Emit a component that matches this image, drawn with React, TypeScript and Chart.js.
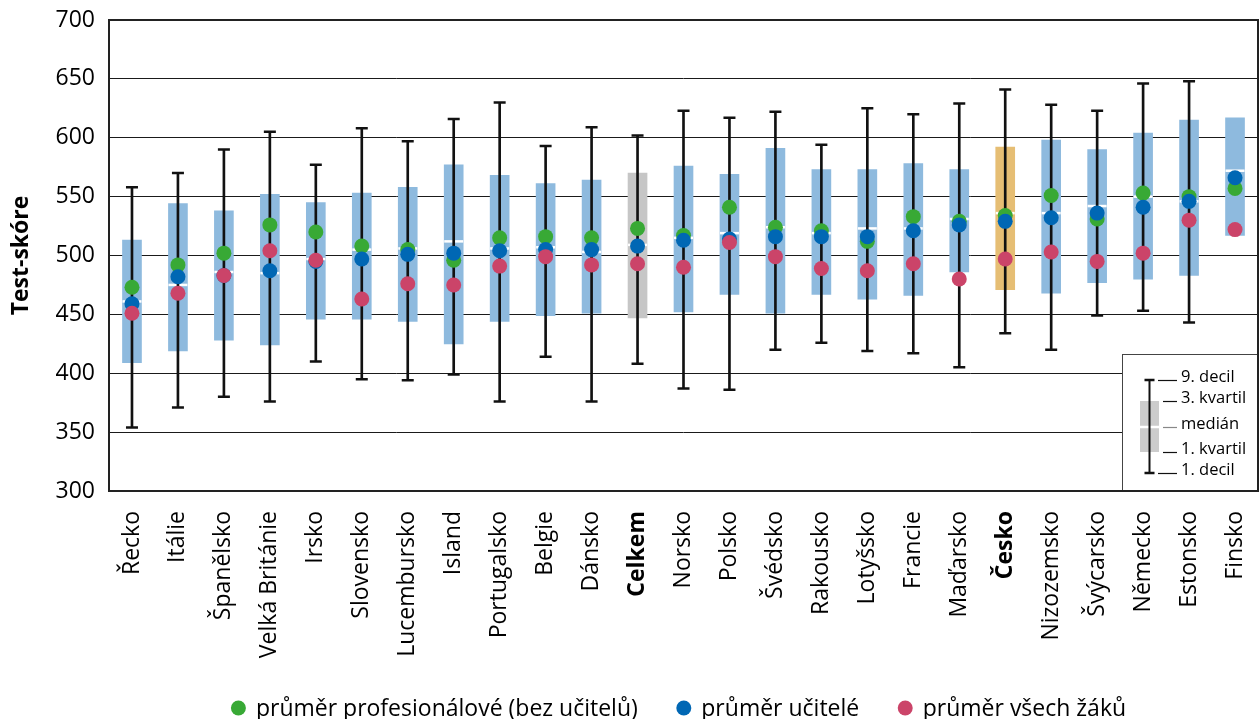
import React, { useEffect, useRef } from 'react';
import { Chart, registerables } from 'chart.js';

Chart.register(...registerables);

// ---------- data ----------
const categories = [
  'Řecko', 'Itálie', 'Španělsko', 'Velká Británie', 'Irsko', 'Slovensko', 'Lucembursko', 'Island',
  'Portugalsko', 'Belgie', 'Dánsko', 'Celkem', 'Norsko', 'Polsko', 'Švédsko', 'Rakousko', 'Lotyšsko',
  'Francie', 'Maďarsko', 'Česko', 'Nizozemsko', 'Švýcarsko', 'Německo', 'Estonsko', 'Finsko',
];
const decile1 = [354, 371, 380, 376, 410, 395, 394, 399, 376, 414, 376, 408, 387, 386, 420, 426, 419, 417, 405, 434, 420, 449, 453, 443, null];
const decile9 = [558, 570, 590, 605, 577, 608, 597, 616, 630, 593, 609, 602, 623, 617, 622, 594, 625, 620, 629, 641, 628, 623, 646, 648, null];
const quartile1 = [409, 419, 428, 424, 446, 446, 444, 425, 444, 449, 451, 447, 452, 467, 451, 467, 463, 466, 486, 471, 468, 477, 480, 483, 517];
const quartile3 = [513, 544, 538, 552, 545, 553, 558, 577, 568, 561, 564, 570, 576, 569, 591, 573, 573, 578, 573, 592, 598, 590, 604, 615, 617];
const medians = [461, 475, 486, 485, 497, 505, 506, 512, 506, 507, 503, 509, 515, 519, 524, 519, 523, 523, 531, 536, 536, 542, 550, 546, 572];
const profMeans = [473, 492, 502, 526, 520, 508, 505, 496, 515, 516, 515, 523, 517, 541, 524, 521, 512, 533, 529, 534, 551, 531, 553, 550, 557];
const teacherMeans = [459, 482, 483, 487, 495, 497, 501, 502, 504, 505, 505, 508, 513, 514, 516, 516, 516, 521, 526, 529, 532, 536, 541, 546, 566];
const studentMeans = [451, 468, 483, 504, 496, 463, 476, 475, 491, 499, 492, 493, 490, 511, 499, 489, 487, 493, 480, 497, 503, 495, 502, 530, 522];
const yTickValues = [300, 350, 400, 450, 500, 550, 600, 650, 700];
const highlighted = ['Celkem', 'Česko'];
const seriesLabels = ['průměr profesionálové (bez učitelů)', 'průměr učitelé', 'průměr všech žáků'];
const keyLabels = ['9. decil', '3. kvartil', 'medián', '1. kvartil', '1. decil'];
const yTitle = 'Test-skóre';

// ---------- styles ----------
const FONT = "'Open Sans', 'Noto Sans', 'DejaVu Sans', sans-serif";
const FS = 23;
const GREEN = '#38A935';
const BLUE = '#0067B4';
const RED = '#CB4469';
const SERIES_COLORS = [GREEN, BLUE, RED];
const BOX_BLUE = '#8EBADE';
const BOX_SPECIAL: Record<string, string> = { Celkem: '#C6C6C6', 'Česko': '#E6BE74' };

const plotBorderPlugin = {
  id: 'plotBorder',
  afterDraw(chart: any) {
    const { ctx, chartArea: a } = chart;
    ctx.save();
    ctx.strokeStyle = '#222';
    ctx.lineWidth = 2;
    ctx.strokeRect(a.left, a.top, a.right - a.left, a.bottom - a.top);
    ctx.restore();
  },
};

const keyBoxPlugin = {
  id: 'keyBox',
  afterDatasetsDraw(chart: any) {
    const { ctx, chartArea: a } = chart;
    const L = a.right - 136;
    const T = a.bottom - 137;
    ctx.save();
    ctx.fillStyle = '#fff';
    ctx.fillRect(L, T, a.right - L, a.bottom - T);
    ctx.strokeStyle = '#444';
    ctx.lineWidth = 1;
    ctx.strokeRect(L + 0.5, T + 0.5, a.right - L, a.bottom - T);
    // sample box
    ctx.fillStyle = '#CCCCCC';
    ctx.fillRect(L + 18, T + 47, 19, 51);
    ctx.strokeStyle = '#fff';
    ctx.lineWidth = 2.5;
    ctx.beginPath();
    ctx.moveTo(L + 18, T + 73);
    ctx.lineTo(L + 37, T + 73);
    ctx.stroke();
    // sample whisker
    const wx = L + 27.5;
    ctx.strokeStyle = '#111';
    ctx.lineWidth = 2;
    ctx.beginPath();
    ctx.moveTo(wx, T + 26);
    ctx.lineTo(wx, T + 119);
    ctx.stroke();
    ctx.lineWidth = 2.5;
    ctx.beginPath();
    ctx.moveTo(wx - 5, T + 26);
    ctx.lineTo(wx + 5, T + 26);
    ctx.moveTo(wx - 5, T + 119);
    ctx.lineTo(wx + 5, T + 119);
    ctx.stroke();
    // dashes + labels
    const ys = [26, 47, 73, 98, 119];
    const starts = [36, 41, 41, 41, 36];
    ctx.font = `16.5px ${FONT}`;
    ctx.textBaseline = 'alphabetic';
    ctx.textAlign = 'left';
    keyLabels.forEach((lab, i) => {
      ctx.strokeStyle = i === 2 ? '#888' : '#111';
      ctx.lineWidth = 1.2;
      ctx.beginPath();
      ctx.moveTo(L + starts[i], T + ys[i] + 0.5);
      ctx.lineTo(L + 55, T + ys[i] + 0.5);
      ctx.stroke();
      ctx.fillStyle = '#000';
      ctx.fillText(lab, L + 59, T + ys[i] + 1.5);
    });
    ctx.restore();
  },
};

const seriesLegendPlugin = {
  id: 'seriesLegend',
  afterDraw(chart: any) {
    const { ctx, chartArea: a } = chart;
    ctx.save();
    ctx.font = `${FS}px ${FONT}`;
    const r = 7.5;
    const gapText = 10;
    const gapItem = 38.5;
    const widths = seriesLabels.map((t) => 2 * r + gapText + ctx.measureText(t).width);
    const total = widths.reduce((s, w) => s + w, 0) + gapItem * (seriesLabels.length - 1);
    let x = (a.left + a.right) / 2 - 5 - total / 2;
    const cy = 708;
    seriesLabels.forEach((t, i) => {
      ctx.fillStyle = SERIES_COLORS[i];
      ctx.beginPath();
      ctx.arc(x + r, cy, r, 0, Math.PI * 2);
      ctx.fill();
      ctx.fillStyle = '#000';
      ctx.textBaseline = 'alphabetic';
      ctx.textAlign = 'left';
      ctx.fillText(t, x + 2 * r + gapText, cy + 7.5);
      x += widths[i] + gapItem;
    });
    ctx.restore();
  },
};

function pointSeries(label: string, data: (number | null)[], color: string, order: number) {
  return {
    type: 'line' as const,
    label,
    data,
    showLine: false,
    pointStyle: 'circle',
    pointRadius: 7.5,
    pointHoverRadius: 7.5,
    pointBorderWidth: 0,
    pointBackgroundColor: color,
    backgroundColor: color,
    borderColor: color,
    order,
  };
}

function capSeries(label: string, data: (number | null)[], order: number) {
  return {
    type: 'line' as const,
    label,
    data,
    showLine: false,
    pointStyle: 'line',
    pointRadius: 6,
    pointHoverRadius: 6,
    pointBorderColor: '#111',
    pointBorderWidth: 2.5,
    borderColor: '#111',
    order,
  };
}

export default function App() {
  const canvasRef = useRef<HTMLCanvasElement | null>(null);

  useEffect(() => {
    document.body.style.margin = '0';
    const canvas = canvasRef.current;
    if (!canvas) return;
    Chart.defaults.font.family = FONT;
    Chart.defaults.color = '#000';

    const chart = new Chart(canvas, {
      type: 'bar',
      data: {
        labels: categories,
        datasets: [
          {
            type: 'bar',
            label: 'box',
            data: categories.map((_, i) => [quartile1[i], quartile3[i]]) as any,
            backgroundColor: categories.map((c) => BOX_SPECIAL[c] || BOX_BLUE),
            borderWidth: 0,
            barThickness: 19,
            grouped: false,
            order: 10,
          },
          {
            type: 'line',
            label: 'median',
            data: medians,
            showLine: false,
            pointStyle: 'line',
            pointRadius: 9.5,
            pointHoverRadius: 9.5,
            pointBorderColor: '#fff',
            pointBorderWidth: 2.5,
            borderColor: '#fff',
            order: 9,
          },
          {
            type: 'bar',
            label: 'whisker',
            data: categories.map((_, i) =>
              decile1[i] == null || decile9[i] == null ? null : [decile1[i], decile9[i]]
            ) as any,
            backgroundColor: '#111',
            borderWidth: 0,
            barThickness: 2,
            grouped: false,
            order: 8,
          },
          capSeries('decile1', decile1, 7),
          capSeries('decile9', decile9, 6),
          pointSeries(seriesLabels[0], profMeans, GREEN, 3),
          pointSeries(seriesLabels[1], teacherMeans, BLUE, 2),
          pointSeries(seriesLabels[2], studentMeans, RED, 1),
        ] as any,
      },
      options: {
        responsive: false,
        animation: false,
        events: [],
        layout: { autoPadding: false, padding: { top: 20, right: 1, left: 0, bottom: 58 } },
        plugins: {
          legend: { display: false },
          tooltip: { enabled: false },
        },
        scales: {
          x: {
            offset: true,
            grid: { display: false },
            border: { display: false },
            ticks: {
              autoSkip: false,
              maxRotation: 90,
              minRotation: 90,
              padding: 12,
              color: '#000',
              font: (ctx: any) => ({
                family: FONT,
                size: FS,
                weight: highlighted.includes(categories[ctx.index]) ? 'bold' : 'normal',
              }),
            },
            afterFit: (scale: any) => {
              scale.height = 170;
              scale.paddingLeft = 0;
              scale.paddingRight = 0;
              scale.paddingTop = 0;
              scale.paddingBottom = 0;
            },
          },
          y: {
            min: 300,
            max: 700,
            grid: { color: '#1a1a1a', lineWidth: 1, drawTicks: false },
            border: { display: false },
            ticks: {
              padding: 14,
              color: '#000',
              font: { family: FONT, size: FS },
            },
            afterBuildTicks: (axis: any) => {
              axis.ticks = yTickValues.map((v) => ({ value: v }));
            },
            afterFit: (scale: any) => {
              scale.width = 109;
              scale.paddingTop = 0;
              scale.paddingBottom = 0;
              scale.paddingLeft = 0;
              scale.paddingRight = 0;
            },
            title: {
              display: true,
              text: yTitle,
              color: '#000',
              font: { family: FONT, size: FS, weight: 'bold', lineHeight: 1.2 },
              padding: { top: 8, bottom: 0 },
            },
          },
        },
      },
      plugins: [keyBoxPlugin, plotBorderPlugin, seriesLegendPlugin],
    });

    return () => chart.destroy();
  }, []);

  return (
    <div style={{ width: 1259, height: 719 }}>
      <canvas ref={canvasRef} width={1259} height={719} style={{ display: 'block' }} />
    </div>
  );
}
